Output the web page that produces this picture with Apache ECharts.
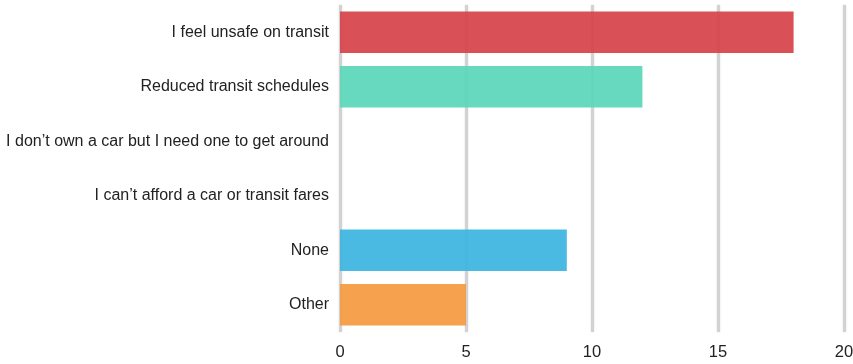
<!DOCTYPE html>
<html>
<head>
<meta charset="utf-8">
<script src="https://cdn.jsdelivr.net/npm/echarts@6/dist/echarts.min.js"></script>
<style>
  html, body { margin: 0; padding: 0; background: #fff; }
  #chart { width: 853px; height: 364px; }
</style>
</head>
<body>
<div id="chart"></div>
<script>
var categories = [
    'I feel unsafe on transit',
    'Reduced transit schedules',
    'I don\u2019t own a car but I need one to get around',
    'I can\u2019t afford a car or transit fares',
    'None',
    'Other'
];
var values = [18, 12, 0, 0, 9, 5];
var barColors = ['#d6434a', '#5ad6b9', '#9b59b6', '#95a5a6', '#3db5e0', '#f59a3f'];
var xTicks = [0, 5, 10, 15, 20];

var myChart = echarts.init(document.getElementById('chart'));
myChart.setOption({
    animation: false,
    grid: {
        left: 340,
        right: 9,
        top: 5,
        bottom: 32,
        outerBoundsMode: 'none'
    },
    xAxis: {
        type: 'value',
        min: xTicks[0],
        max: xTicks[xTicks.length - 1],
        interval: 5,
        axisLine: { show: false },
        axisTick: { show: false },
        axisLabel: {
            color: '#222',
            fontSize: 16.5,
            fontFamily: 'Liberation Sans, Arial, sans-serif',
            margin: 12
        },
        splitLine: {
            lineStyle: {
                color: '#d2d2d2',
                width: 3,
                shadowColor: 'rgba(0,0,0,0.15)',
                shadowBlur: 2
            }
        }
    },
    yAxis: {
        type: 'category',
        inverse: true,
        data: categories,
        axisLine: { show: false },
        axisTick: { show: false },
        axisLabel: {
            color: '#222',
            fontSize: 16,
            fontFamily: 'Liberation Sans, Arial, sans-serif',
            margin: 11
        }
    },
    series: [
        {
            type: 'bar',
            barWidth: '76%',
            data: values.map(function (v, i) {
                return {
                    value: v,
                    itemStyle: { color: barColors[i], opacity: 0.93 }
                };
            })
        }
    ]
});
</script>
</body>
</html>
